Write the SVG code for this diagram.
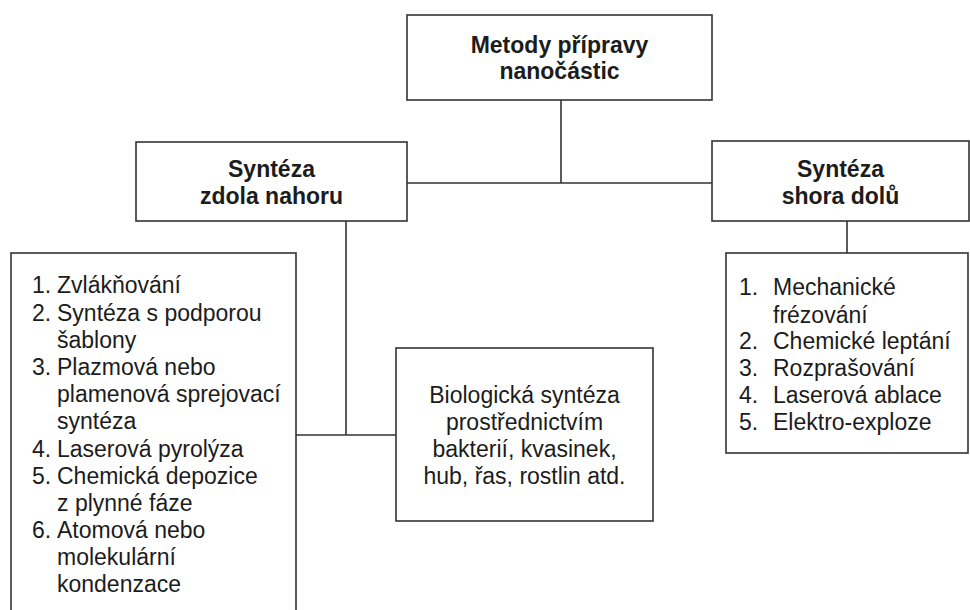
<svg xmlns="http://www.w3.org/2000/svg" width="970" height="610" viewBox="0 0 970 610">
<style>
.box{fill:#fff;stroke:#333;stroke-width:1.6}
.ln{fill:none;stroke:#333;stroke-width:1.6}
text{font-family:"Liberation Sans",Arial,sans-serif;font-size:23px;fill:#1c1c1c}
.b{font-weight:bold}
.c{text-anchor:middle}
</style>
<rect width="970" height="610" fill="#fff"/>
<g id="connectors">
<path class="ln" d="M561 100V183M407 183H712M346 221V435M296 435H396M847 221V253"/>
</g>
<g id="root">
<rect class="box" x="407" y="15" width="305" height="85"/>
<text class="b c" x="559.5" y="53">Metody přípravy</text>
<text class="b c" x="559.5" y="79">nanočástic</text>
</g>
<g id="bottom-up">
<rect class="box" x="136" y="142" width="271" height="79"/>
<text class="b c" x="271.5" y="177">Syntéza</text>
<text class="b c" x="271.5" y="204">zdola nahoru</text>
</g>
<g id="top-down">
<rect class="box" x="712" y="141" width="257" height="80"/>
<text class="b c" x="840.5" y="177">Syntéza</text>
<text class="b c" x="840.5" y="204">shora dolů</text>
</g>
<g id="bottom-up-list">
<rect class="box" x="11" y="253" width="285" height="370"/>
<text x="32" y="293">1.</text><text x="57" y="293">Zvlákňování</text>
<text x="32" y="320.5">2.</text><text x="57" y="320.5">Syntéza s podporou</text>
<text x="57" y="347.7">šablony</text>
<text x="32" y="375">3.</text><text x="57" y="375">Plazmová nebo</text>
<text x="57" y="402">plamenová sprejovací</text>
<text x="57" y="429.3">syntéza</text>
<text x="32" y="456.5">4.</text><text x="57" y="456.5">Laserová pyrolýza</text>
<text x="32" y="483.7">5.</text><text x="57" y="483.7">Chemická depozice</text>
<text x="57" y="511">z plynné fáze</text>
<text x="32" y="538">6.</text><text x="57" y="538">Atomová nebo</text>
<text x="57" y="565">molekulární</text>
<text x="57" y="592">kondenzace</text>
</g>
<g id="biological">
<rect class="box" x="396" y="348" width="257" height="173"/>
<text class="c" x="524.5" y="403">Biologická syntéza</text>
<text class="c" x="524.5" y="429.5">prostřednictvím</text>
<text class="c" x="524.5" y="457">bakterií, kvasinek,</text>
<text class="c" x="524.5" y="484">hub, řas, rostlin atd.</text>
</g>
<g id="top-down-list">
<rect class="box" x="726" y="253" width="242" height="200"/>
<text x="739" y="295">1.</text><text x="773" y="295">Mechanické</text>
<text x="773" y="322.5">frézování</text>
<text x="739" y="349">2.</text><text x="773" y="349">Chemické leptání</text>
<text x="739" y="376">3.</text><text x="773" y="376">Rozprašování</text>
<text x="739" y="403">4.</text><text x="773" y="403">Laserová ablace</text>
<text x="739" y="430">5.</text><text x="773" y="430">Elektro-exploze</text>
</g>
</svg>
